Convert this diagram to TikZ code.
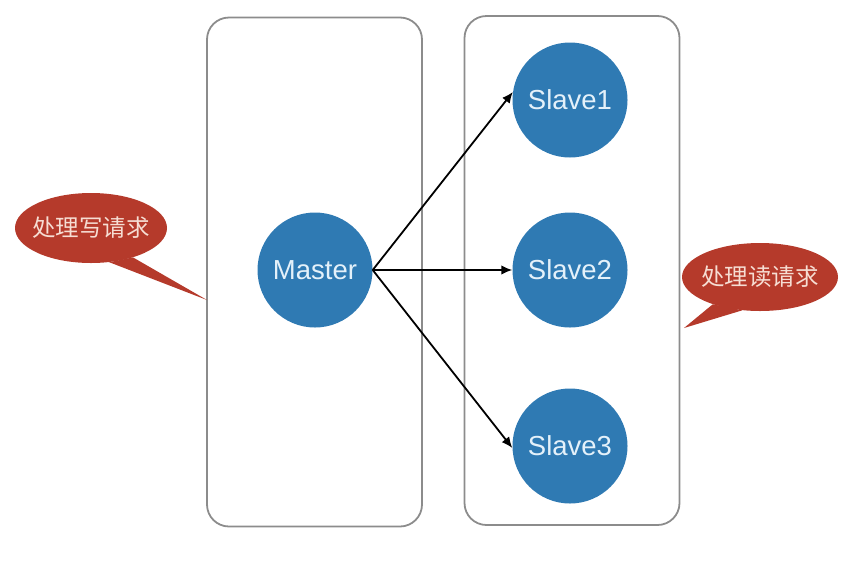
\documentclass[tikz,border=0pt]{standalone}
\usepackage{fontspec}
\setmainfont{Liberation Sans}
\newfontfamily\cjk{Noto Sans CJK SC}
\usetikzlibrary{arrows.meta,shapes.geometric}

\definecolor{nodeblue}{HTML}{2F7AB3}
\definecolor{calloutred}{HTML}{B53A2B}
\definecolor{boxgray}{HTML}{8C8C8C}
\definecolor{textlight}{HTML}{E4F1FA}
\definecolor{calloutext}{HTML}{F6DDD3}

\tikzset{
  group/.style={draw=boxgray, line width=1.8pt, rounded corners=22pt, minimum width=215pt, minimum height=509pt},
  server/.style={circle, fill=nodeblue, minimum size=115pt, inner sep=0pt, text=textlight, font=\fontsize{27.5}{32}\selectfont},
  bubble/.style={ellipse, fill=calloutred, text=calloutext, inner xsep=-6pt, inner ysep=0pt, font=\cjk\fontsize{23.5}{28}\selectfont},
  link/.style={line width=1.8pt, -{Latex[length=11pt,width=9.5pt]}}
}

\begin{document}
\begin{tikzpicture}[x=1pt,y=-1pt]
  \useasboundingbox (0,0) rectangle (865,563);

  % the two groups
  \node[group] (writebox) at (314.5,272) {};
  \node[group] (readbox) at (572,270.5) {};

  % servers
  \node[server] (master) at (315,270) {Master};
  \node[server] (slave1) at (570,100) {Slave1};
  \node[server] (slave2) at (570,270) {Slave2};
  \node[server] (slave3) at (570,446) {Slave3};

  \draw[link] (master.east) -- (slave1.172);
  \draw[link] (master.east) -- (slave2.west);
  \draw[link] (master.east) -- (slave3.182);

  % callouts
  \coordinate (writetip) at (207,300);
  \coordinate (readtip) at (684,328);
  \node[bubble, minimum width=152pt, minimum height=70pt] (write) at (91,228) {处理写请求};
  \fill[calloutred] (write.-62) -- (writetip) -- (write.-35) -- cycle;
  \node[bubble, minimum width=156pt, minimum height=68pt] (read) at (760,277) {处理读请求};
  \fill[calloutred] (read.-150) -- (readtip) -- (read.-118) -- cycle;
\end{tikzpicture}
\end{document}
